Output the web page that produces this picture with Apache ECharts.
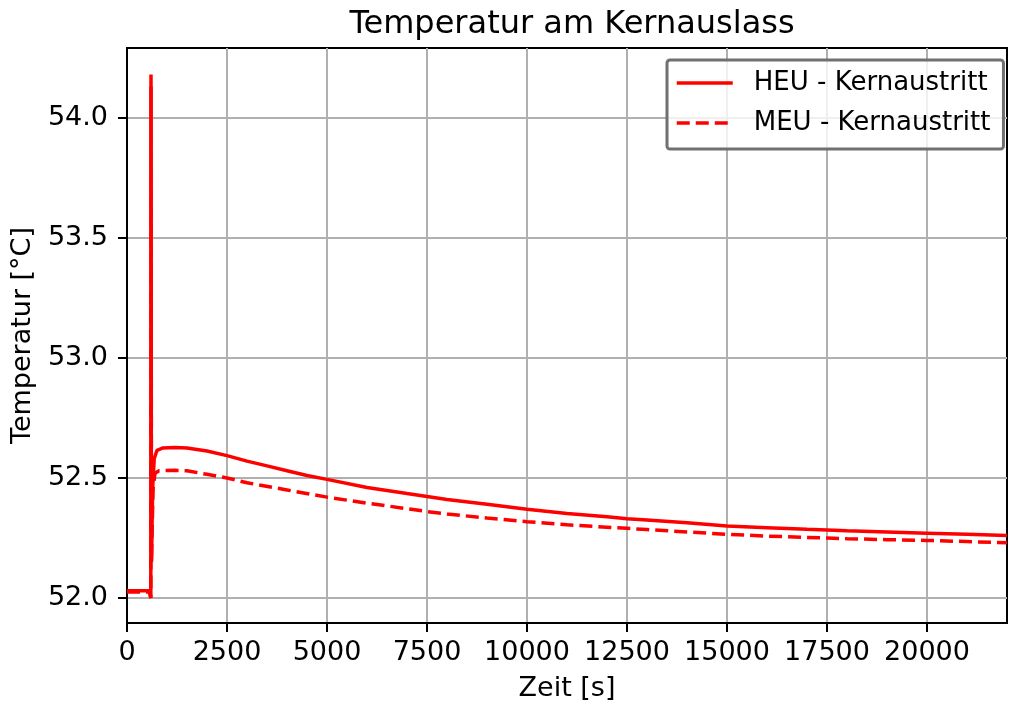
<!DOCTYPE html>
<html><head><meta charset="utf-8">
<script src="https://cdn.jsdelivr.net/npm/echarts@6/dist/echarts.min.js"></script>
<style>html,body{margin:0;padding:0;background:#fff}#c{width:1009px;height:707px}</style>
</head><body><div id="c"></div>
<script>
const heuTime = [0, 300, 560, 590, 595, 600, 610, 640, 680, 750, 900, 1200, 1500, 2000, 2500, 3000, 3500, 4000, 4500, 5000, 6000, 7000, 7500, 8000, 9000, 10000, 11000, 12000, 12500, 13000, 14000, 15000, 16000, 17000, 17500, 18000, 19000, 20000, 21000, 22000];
const heuTemp = [52.03, 52.03, 52.03, 52.03, 52.0, 54.13, 52.15, 52.45, 52.58, 52.615, 52.625, 52.627, 52.625, 52.612, 52.593, 52.57, 52.55, 52.53, 52.51, 52.494, 52.46, 52.435, 52.423, 52.41, 52.39, 52.37, 52.352, 52.338, 52.33, 52.325, 52.313, 52.30, 52.293, 52.286, 52.283, 52.28, 52.275, 52.27, 52.265, 52.26];
const meuTime = [0, 300, 560, 590, 595, 600, 612, 650, 700, 800, 1200, 1500, 2000, 2500, 3000, 4000, 5000, 6000, 7000, 7500, 8000, 9000, 10000, 11000, 12000, 12500, 13000, 14000, 15000, 16000, 17000, 17500, 18000, 19000, 20000, 21000, 22000];
const meuTemp = [52.025, 52.025, 52.025, 52.025, 52.0, 54.18, 52.15, 52.45, 52.52, 52.53, 52.532, 52.53, 52.515, 52.50, 52.48, 52.45, 52.42, 52.395, 52.372, 52.36, 52.35, 52.333, 52.318, 52.305, 52.295, 52.29, 52.285, 52.275, 52.265, 52.258, 52.252, 52.25, 52.247, 52.243, 52.24, 52.235, 52.23];
const xTicks = [0, 2500, 5000, 7500, 10000, 12500, 15000, 17500, 20000];
const yTicks = [52.0, 52.5, 53.0, 53.5, 54.0];
const seriesNames = ['HEU - Kernaustritt', 'MEU - Kernaustritt'];
const titleText = 'Temperatur am Kernauslass';
const xName = 'Zeit [s]';
const yName = 'Temperatur [°C]';

const F = 'DejaVu Sans';
const chart = echarts.init(document.getElementById('c'), null, {renderer: 'canvas'});
const pair = (t, v) => t.map((x, i) => [x, v[i]]);
chart.setOption({
  animation: false,
  backgroundColor: '#fff',
  title: {text: titleText, left: 567, textAlign: 'center', top: 4,
    textStyle: {fontFamily: F, fontSize: 32, fontWeight: 'normal', color: '#000'}},
  grid: {left: 127, top: 48, right: 2, bottom: 81, show: true, borderColor: '#000', borderWidth: 2, containLabel: false},
  legend: {
    left: 667, top: 60, orient: 'vertical', itemWidth: 56, itemHeight: 14, itemGap: 14,
    padding: [10, 13, 13, 8], borderColor: '#707070', borderWidth: 3, borderRadius: 3,
    backgroundColor: 'rgba(255,255,255,0.8)',
    itemStyle: {opacity: 0},
    lineStyle: {width: 3.5},
    textStyle: {fontFamily: F, fontSize: 26, color: '#000', padding: [0, 0, 0, 16]},
    data: seriesNames
  },
  xAxis: {
    type: 'value', min: 0, max: 22000, name: xName, nameLocation: 'middle', nameGap: 52,
    nameTextStyle: {fontFamily: F, fontSize: 27, color: '#000'},
    axisLine: {show: true, onZero: false, lineStyle: {color: '#000', width: 2}},
    axisTick: {show: true, length: 9, lineStyle: {color: '#000', width: 2}, customValues: xTicks},
    axisLabel: {fontFamily: F, fontSize: 27, color: '#000', margin: 16, customValues: xTicks,
      formatter: v => String(v)},
    splitLine: {show: true, lineStyle: {color: '#b0b0b0', width: 2}}
  },
  yAxis: {
    type: 'value', min: 51.896, max: 54.29, name: yName, nameLocation: 'middle', nameGap: 85,
    nameTextStyle: {fontFamily: F, fontSize: 27, color: '#000'},
    axisLine: {show: true, onZero: false, lineStyle: {color: '#000', width: 2}},
    axisTick: {show: true, length: 9, lineStyle: {color: '#000', width: 2}, customValues: yTicks},
    axisLabel: {fontFamily: F, fontSize: 27, color: '#000', margin: 19, customValues: yTicks,
      formatter: v => v.toFixed(1)},
    splitLine: {show: true, lineStyle: {color: '#b0b0b0', width: 2}}
  },
  series: [
    {name: seriesNames[0], type: 'line', data: pair(heuTime, heuTemp), showSymbol: false, symbol: 'none',
      lineStyle: {color: '#ff0000', width: 3.5}, itemStyle: {color: '#ff0000'}},
    {name: seriesNames[1], type: 'line', data: pair(meuTime, meuTemp), showSymbol: false, symbol: 'none',
      lineStyle: {color: '#ff0000', width: 3.5, type: [13, 6]}, itemStyle: {color: '#ff0000'}}
  ]
});
</script></body></html>
